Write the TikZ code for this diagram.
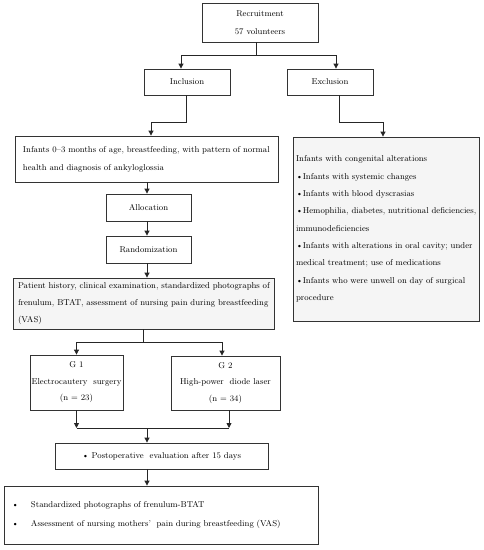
\documentclass[tikz,border=0pt]{standalone}
\usetikzlibrary{arrows.meta,calc}
\newcommand{\fullline}[1]{\makebox[\linewidth][s]{#1}}
\begin{document}
\begin{tikzpicture}[x=1pt,y=-1pt,
  box/.style={draw=black!80, line width=0.8pt, inner sep=0pt, font=\fontsize{8.5}{17.3}\selectfont, align=center},
  shaded/.style={fill=black!4},
  arr/.style={draw=black!85, line width=0.8pt, -{Triangle[width=5pt,length=5pt]}},
  ln/.style={draw=black!85, line width=0.8pt}]
\useasboundingbox (0,0) rectangle (484,550);

\node[box, minimum width=116pt, minimum height=39pt, font=\fontsize{8.5}{18}\selectfont] (rec) at (260,22.5) {Recruitment\\57 volunteers};
\node[box, minimum width=86pt, minimum height=26pt] (inc) at (187,82) {Inclusion};
\node[box, minimum width=86pt, minimum height=26pt] (exc) at (330,82) {Exclusion};

\node[box, minimum width=263pt, minimum height=46pt, text width=247pt, align=left, font=\fontsize{8.5}{18}\selectfont] (inf) at (146.5,159)
  {Infants 0--3 months of age, breastfeeding, with pattern of normal\\health and diagnosis of ankyloglossia};

\node[box, shaded, minimum width=186pt, minimum height=184pt, text width=180pt, align=left] (excl) at (386,229)
  {Infants with congenital alterations\\
   \textbullet Infants with systemic changes\\
   \textbullet Infants with blood dyscrasias\\
   \fullline{\textbullet Hemophilia, diabetes, nutritional deficiencies,}\\
   immunodeficiencies\\
   \fullline{\textbullet Infants with alterations in oral cavity; under}\\
   medical treatment; use of medications\\
   \fullline{\textbullet Infants who were unwell on day of surgical}\\
   procedure};

\node[box, minimum width=85pt, minimum height=27pt] (alloc) at (148.5,207.5) {Allocation};
\node[box, minimum width=85pt, minimum height=27pt] (rand) at (148.5,249.5) {Randomization};

\node[box, shaded, minimum width=261pt, minimum height=51pt, text width=251pt, align=left, font=\fontsize{8.5}{17}\selectfont] (pat) at (143.5,303.5)
  {\fullline{Patient history, clinical examination, standardized photographs of}\\
   \fullline{frenulum, BTAT, assessment of nursing pain during breastfeeding}\\
   (VAS)};

\node[box, minimum width=93pt, minimum height=55pt, font=\fontsize{8.5}{16.5}\selectfont] (g1) at (76.5,382.5) {G 1\\Electrocautery\ \ surgery\\(n = 23)};
\node[box, minimum width=109pt, minimum height=54pt, font=\fontsize{8.5}{16.5}\selectfont] (g2) at (225.5,383) {G 2\\High-power\ \ diode laser\\(n = 34)};

\node[box, minimum width=213pt, minimum height=26pt] (post) at (161.5,456) {\textbullet\ Postoperative\ \ evaluation after 15 days};

\node[box, minimum width=314pt, minimum height=58pt, text width=298pt, align=left, font=\fontsize{8.5}{19}\selectfont] (fin) at (161,515)
  {\makebox[19pt][l]{\textbullet}Standardized photographs of frenulum-BTAT\\
   \makebox[19pt][l]{\textbullet}Assessment of nursing mothers'\ \ pain during breastfeeding (VAS)};

% connectors
\coordinate (j1) at (256,55);
\draw[ln] (rec.south -| j1) -- (j1);
\draw[arr] (j1) -| ([xshift=-6pt]inc.north);
\draw[arr] (j1) -| ([xshift=6pt]exc.north);

\coordinate (b1) at (186,122);
\coordinate (b2) at (151,122);
\draw[arr] (inc.south -| b1) -- (b1) -- (b2) -- (b2 |- inf.north);

\coordinate (b3) at (339,122);
\coordinate (b4) at (383,122);
\draw[arr] (exc.south -| b3) -- (b3) -- (b4) -- (b4 |- excl.north);

\coordinate (c1) at (147,0);
\draw[arr] (c1 |- inf.south) -- (c1 |- alloc.north);
\draw[arr] (c1 |- alloc.south) -- (c1 |- rand.north);
\draw[arr] (c1 |- rand.south) -- (c1 |- pat.north);

\coordinate (j2) at (143,342);
\draw[ln] (j2 |- pat.south) -- (j2);
\draw[arr] (j2) -| (g1.north);
\draw[arr] (j2) -| ([xshift=-3.5pt]g2.north);

\coordinate (j3) at (147,428);
\coordinate (m1) at (76.5,428);
\coordinate (m2) at (229,428);
\draw[arr] (g1.south) -- (m1);
\draw[arr] (m2 |- g2.south) -- (m2);
\draw[ln] (m1) -- (m2);
\draw[arr] (j3) -- (j3 |- post.north);
\draw[arr] (j3 |- post.south) -- (j3 |- fin.north);
\end{tikzpicture}
\end{document}
